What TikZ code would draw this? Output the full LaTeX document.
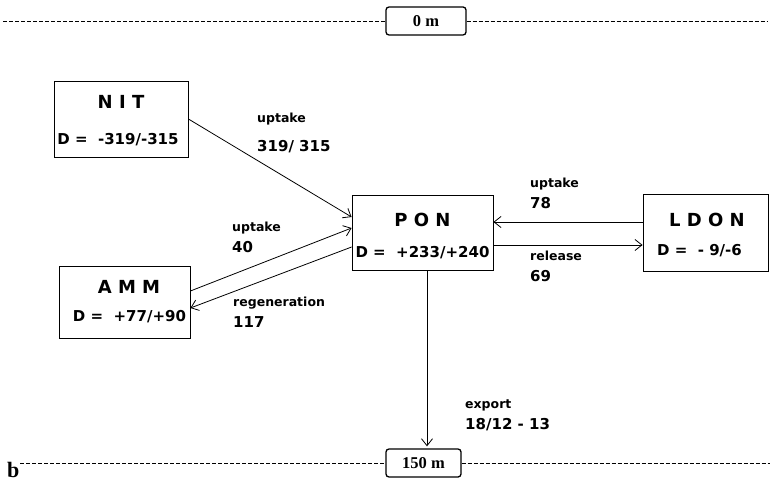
\documentclass[tikz,border=0pt]{standalone}
\usepackage{fontspec}
\setmainfont{Liberation Serif}
\newfontfamily\boxfont{DejaVu Sans}
\usetikzlibrary{arrows.meta}

\newcommand{\fluxval}[1]{{\fontsize{15}{18}\selectfont #1}}

\begin{document}
\begin{tikzpicture}[x=1pt, y=-1pt,
  pool/.style={draw, line width=0.8pt, inner sep=0pt},
  pooltitle/.style={anchor=base, inner sep=0pt, font=\boxfont\bfseries\fontsize{18}{20}\selectfont},
  poolval/.style={anchor=base, inner sep=0pt, font=\boxfont\bfseries\fontsize{15}{18}\selectfont},
  layer/.style={draw, line width=1.3pt, rounded corners=3pt, minimum width=#1,
    minimum height=28pt, inner sep=0pt, font=\bfseries\fontsize{16.5}{18}\selectfont},
  flux/.style={anchor=north west, inner sep=0pt, align=left,
    font=\boxfont\bfseries\fontsize{12.5}{21}\selectfont},
  arr/.style={-{Straight Barb[length=7pt,width=11pt]}, line width=0.8pt},
  horizon/.style={dash pattern=on 4pt off 2pt, line width=0.5pt}
]
  \useasboundingbox[fill=white] (0,0) rectangle (770,481);

  % depth levels
  \node[layer=80pt] (m0) at (426,21) {0 m};
  \node[layer=75pt] (m150) at (423.5,463) {150 m};
  \coordinate (topL) at (3,21);
  \coordinate (topR) at (768,21);
  \coordinate (botL) at (20,463);
  \coordinate (botR) at (770,463);
  \draw[horizon] (topL) -- (m0.west);
  \draw[horizon] (m0.east) -- (topR);
  \draw[horizon] (botL) -- (m150.west);
  \draw[horizon] (m150.east) -- (botR);
  \node[anchor=base west, inner sep=0pt, font=\bfseries\fontsize{22}{22}\selectfont] (panel) at (7,477) {b};

  % nitrogen pools
  \node[pool, minimum width=134pt, minimum height=76pt] (nit) at (121,119) {};
  \node[pooltitle] (nitT) at ([yshift=10pt]nit.center) {N I T};
  \node[poolval] (nitD) at ([xshift=-3pt,yshift=-25.5pt]nit.center) {D = ~-319/-315};

  \node[pool, minimum width=131pt, minimum height=72pt] (amm) at (124.5,302) {};
  \node[pooltitle] (ammT) at ([xshift=4.5pt,yshift=9pt]amm.center) {A M M};
  \node[poolval] (ammD) at ([xshift=5pt,yshift=-19.5pt]amm.center) {D = ~+77/+90};

  \node[pool, minimum width=141pt, minimum height=75pt] (pon) at (422.5,232.5) {};
  \node[pooltitle] (ponT) at ([yshift=6.5pt]pon.center) {P O N};
  \node[poolval] (ponD) at ([yshift=-25pt]pon.center) {D = ~+233/+240};

  \node[pool, minimum width=125pt, minimum height=77pt] (ldon) at (705.5,232.5) {};
  \node[pooltitle] (ldonT) at ([xshift=1.5pt,yshift=6.5pt]ldon.center) {L D O N};
  \node[poolval] (ldonD) at ([xshift=-6pt,yshift=-23pt]ldon.center) {D = ~- 9/-6};

  % fluxes
  \draw[arr] (nit.east) -- ([yshift=15.5pt]pon.west);
  \draw[arr] ([yshift=11pt]amm.east) -- ([yshift=4.5pt]pon.west);
  \draw[arr] ([yshift=-14.5pt]pon.west) -- ([yshift=-6pt]amm.east);
  \draw[arr] ([yshift=10.5pt]ldon.west) -- ([yshift=10.5pt]pon.east);
  \draw[arr] ([yshift=-12.5pt]pon.east) -- ([yshift=-12.5pt]ldon.west);
  \draw[arr] ([xshift=4.5pt]pon.south) -- ([xshift=3.5pt,yshift=2pt]m150.north);

  \node[flux] (upnit) at (257,113) {uptake\\[8pt]\fluxval{319/ 315}};
  \node[flux] (upamm) at (232,222) {uptake\\\fluxval{40}};
  \node[flux] (regen) at (233,297) {regeneration\\\fluxval{117}};
  \node[flux] (upldon) at (530,178) {uptake\\\fluxval{78}};
  \node[flux] (rel) at (530,251) {release\\\fluxval{69}};
  \node[flux] (exp) at (465,400) {export\\\fluxval{18/12 - 13}};
\end{tikzpicture}
\end{document}
